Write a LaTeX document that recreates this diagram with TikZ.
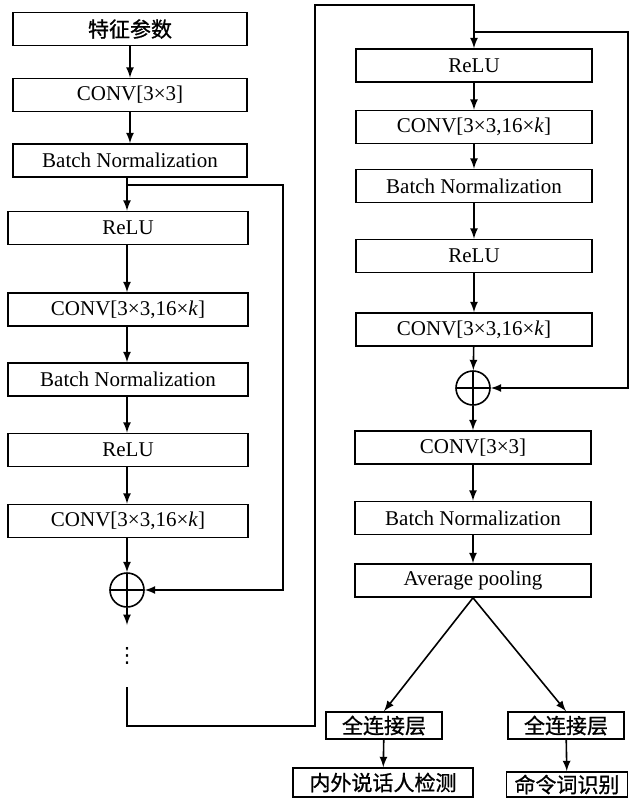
\documentclass[tikz,border=0pt]{standalone}
\usepackage{fontspec}
\setmainfont{Liberation Serif}
\newfontfamily\cjk[FakeBold=1]{Noto Sans CJK SC}
\newfontfamily\symfont{DejaVu Sans}
\usetikzlibrary{arrows,calc}

\begin{document}
\begin{tikzpicture}[x=0.5pt,y=-0.5pt,>=latex,line width=0.8pt,
  font=\fontsize{10.5}{12}\selectfont,
  blk/.style={draw,minimum width=120pt,minimum height=16.5pt,inner sep=0pt},
  fcblk/.style={draw,minimum width=58pt,minimum height=13.5pt,inner sep=0pt,font=\fontsize{10.5}{12}\selectfont\cjk},
  addnode/.style={draw,circle,minimum size=17pt,inner sep=0pt,
    path picture={\draw (path picture bounding box.north) -- (path picture bounding box.south)
      (path picture bounding box.west) -- (path picture bounding box.east);}}]
\useasboundingbox (0,0) rectangle (630,799);
% left column
\node[blk,minimum width=117pt,font=\fontsize{10.5}{12}\selectfont\cjk] (feat) at (130,29) {特征参数};
\node[blk,minimum width=117pt] (conv1) at (130,95) {CONV[3×3]};
\node[blk,minimum width=117pt] (bn1) at (130,160.5) {Batch Normalization};
\node[blk] (relu1) at (128,228) {ReLU};
\node[blk] (conv2) at (128,309.5) {CONV[3×3,16×\textit{k}]};
\node[blk] (bn2) at (128,379.5) {Batch Normalization};
\node[blk] (relu2) at (128,450) {ReLU};
\node[blk] (conv3) at (128,521) {CONV[3×3,16×\textit{k}]};
\node[addnode] (add1) at (127,590) {};
\node[inner sep=0pt,font=\fontsize{10.5}{10.5}\selectfont\symfont] (dots) at (127,656) {⋮};
\coordinate (s1) at (127,185);
\coordinate (r1) at (283,590);
\coordinate (a1) at (127,625);
\coordinate (ret1) at (127,687);
\coordinate (ret2) at (315,726);
\coordinate (ret3) at (315,5);
% right column
\node[blk,minimum width=118pt] (relu3) at (474,65.5) {ReLU};
\node[blk,minimum width=118pt] (conv4) at (474,127) {CONV[3×3,16×\textit{k}]};
\node[blk,minimum width=118pt] (bn3) at (474,186) {Batch Normalization};
\node[blk,minimum width=118pt] (relu4) at (474,256) {ReLU};
\node[blk,minimum width=118pt] (conv5) at (474,329.5) {CONV[3×3,16×\textit{k}]};
\node[addnode] (add2) at (473,388) {};
\node[blk,minimum width=118pt] (conv6) at (473,447.5) {CONV[3×3]};
\node[blk,minimum width=118pt] (bn4) at (473,518) {Batch Normalization};
\node[blk,minimum width=118pt] (avg) at (473,580.5) {Average pooling};
\node[fcblk] (fc1) at (384,725.5) {全连接层};
\node[fcblk] (fc2) at (566,725.5) {全连接层};
\node[fcblk,minimum width=90pt,minimum height=14.5pt] (out1) at (383,782.5) {内外说话人检测};
\node[fcblk,minimum width=60.5pt,minimum height=12.5pt] (out2) at (567,784.5) {命令词识别};
\coordinate (s2) at (474,32);
\coordinate (r2) at (628,388);

\draw[->] (feat) -- (conv1);
\draw[->] (conv1) -- (bn1);
\draw[->] (bn1.south -| s1) -- (s1 |- relu1.north);
\draw[->] (relu1.south -| s1) -- (s1 |- conv2.north);
\draw[->] (conv2.south -| s1) -- (s1 |- bn2.north);
\draw[->] (bn2.south -| s1) -- (s1 |- relu2.north);
\draw[->] (relu2.south -| s1) -- (s1 |- conv3.north);
\draw[->] (conv3.south -| s1) -- (add1);
\draw[->] (s1) -| (r1) -- (add1);
\draw[->] (add1) -- (a1);
\draw[->] (ret1) |- (ret2) -- (ret3) -| (relu3.north);
\draw[->] (relu3) -- (conv4);
\draw[->] (conv4) -- (bn3);
\draw[->] (bn3) -- (relu4);
\draw[->] (relu4) -- (conv5);
\draw[->] (conv5) -- (add2);
\draw[->] (s2) -| (r2) -- (add2);
\draw[->] (add2) -- (conv6);
\draw[->] (conv6) -- (bn4);
\draw[->] (bn4) -- (avg);
\draw[->] (avg.south) -- (fc1.north);
\draw[->] (avg.south) -- (fc2.north);
\draw[->] (fc1) -- (out1);
\draw[->] (fc2) -- (out2);
\end{tikzpicture}
\end{document}
